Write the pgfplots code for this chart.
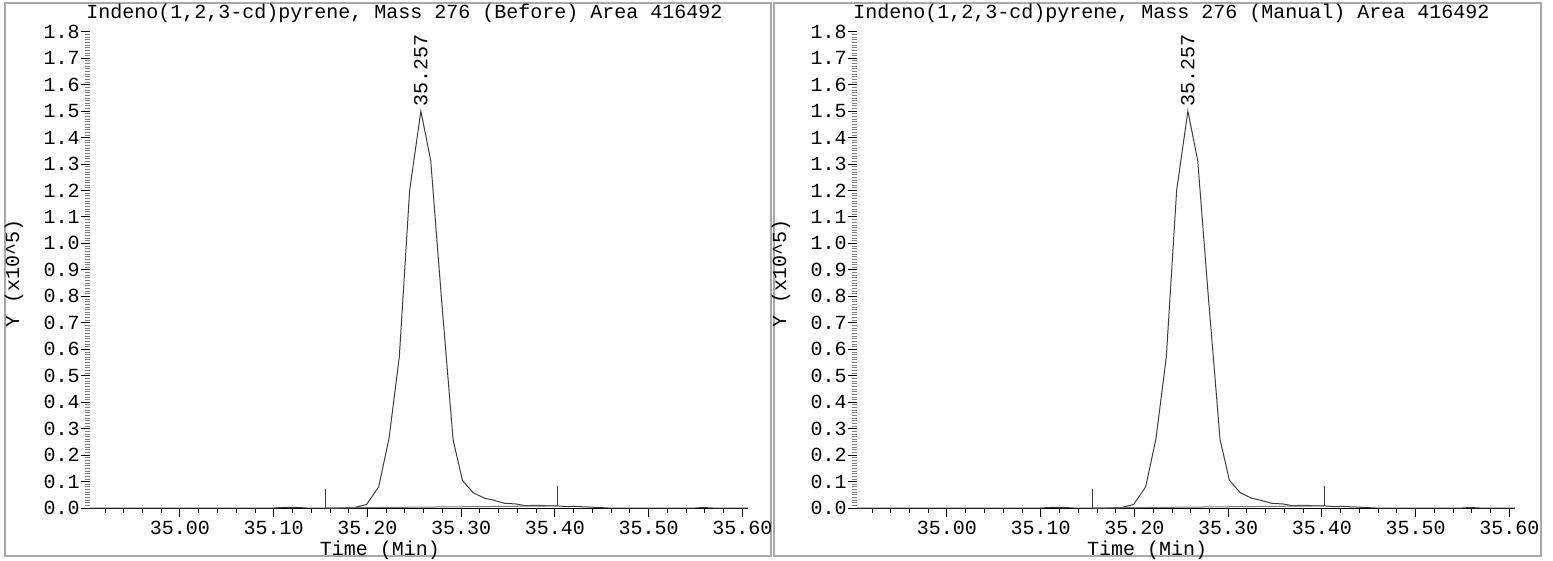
\documentclass[border=0pt]{standalone}
\usepackage{pgfplots}
\pgfplotsset{compat=1.18}
\usepackage{fontspec}
\setmainfont{Liberation Mono}
\definecolor{curve}{HTML}{3C3C3C}
\definecolor{frame}{HTML}{A8A8A8}
\newcommand{\tf}{\fontsize{10}{12}\selectfont}
\pgfplotstableread{
x y
34.904 0.000
35.100 0.000
35.110 0.002
35.125 0.002
35.135 0.000
35.170 0.000
35.186 0.002
35.199 0.013
35.212 0.080
35.223 0.263
35.234 0.571
35.245 1.200
35.257 1.500
35.2675 1.313
35.279 0.790
35.2914 0.257
35.3013 0.105
35.3127 0.058
35.325 0.037
35.334 0.030
35.346 0.018
35.359 0.015
35.368 0.009
35.380 0.010
35.391 0.009
35.403 0.008
35.414 0.005
35.421 0.006
35.435 0.004
35.457 0.000
35.550 0.000
35.558 0.002
35.568 0.000
35.606 0.000
}\chrom
\pgfplotsset{
  panel/.style={
    scale only axis, width=329pt, height=238.15pt,
    anchor=south west,
    xmin=34.904, xmax=35.606, ymin=0, ymax=1.8,
    axis x line=bottom, axis y line=left,
    axis line style={-, line width=0.5pt},
    y axis line style={draw=none},
    clip=false,
    tick align=outside,
    major tick length=4.5pt, minor tick length=2.5pt,
    every tick/.style={black, line width=0.5pt},
    minor y tick style={gray, line width=0.35pt},
    minor x tick style={black, line width=0.45pt},
    xtick={35.0,35.1,35.2,35.3,35.4,35.5,35.6},
    minor xtick={34.92,34.94,34.96,34.98,35.02,35.04,35.06,35.08,35.12,35.14,35.16,35.18,35.22,35.24,35.26,35.28,35.32,35.34,35.36,35.38,35.42,35.44,35.46,35.48,35.52,35.54,35.56,35.58},
    ytick={0,0.1,...,1.8},
    minor y tick num=9,
    scaled ticks=false,
    /pgf/number format/assume math mode=true,
    every tick label/.style={font=\tf, text=black},
    xticklabel style={/pgf/number format/.cd, fixed, fixed zerofill, precision=2, /tikz/.cd, yshift=1.5pt},
    yticklabel style={/pgf/number format/.cd, fixed, fixed zerofill, precision=1, /tikz/.cd, inner sep=0.5pt},
  }
}
\newcommand{\panelplots}{%
  \addplot[color=curve, line width=0.5pt, mark=none] table[x=x,y=y]{\chrom};
  \addplot[color=frame!70!black, line width=0.5pt, mark=none] coordinates {(35.155,0.0) (35.403,0.008)};
  \addplot[color=curve, line width=0.5pt, mark=none] coordinates {(35.155,0.0) (35.155,0.070)};
  \addplot[color=curve, line width=0.5pt, mark=none] coordinates {(35.403,0.008) (35.403,0.082)};
  \node[rotate=90, anchor=west, inner sep=1pt, font=\tf] at (axis cs:35.257,1.51) {35.257};
}
\begin{document}
\begin{tikzpicture}
\path[use as bounding box] (0,0) rectangle (776.5pt,-280.5pt);
% panel 1
\draw[frame, line width=1pt] (2.5pt,-1.5pt) rectangle (385.5pt,-278pt);
\begin{axis}[panel, at={(45pt,-254pt)}]
\panelplots
\end{axis}
\node[anchor=west, inner sep=0pt, font=\tf] at (43pt,-6.5pt) {Indeno(1,2,3-cd)pyrene, Mass 276 (Before) Area 416492};
\node[inner sep=0pt, font=\tf] at (190pt,-275.3pt) {Time (Min)};
\node[rotate=90, inner sep=0pt, font=\tf] at (7pt,-136.5pt) {Y (x10\textasciicircum5)};
% panel 2
\draw[frame, line width=1pt] (387pt,-1.5pt) rectangle (770.5pt,-278pt);
\begin{axis}[panel, at={(428.5pt,-254pt)}]
\panelplots
\end{axis}
\node[anchor=west, inner sep=0pt, font=\tf] at (426.5pt,-6.5pt) {Indeno(1,2,3-cd)pyrene, Mass 276 (Manual) Area 416492};
\node[inner sep=0pt, font=\tf] at (573.5pt,-275.3pt) {Time (Min)};
\node[rotate=90, inner sep=0pt, font=\tf] at (390.5pt,-136.5pt) {Y (x10\textasciicircum5)};
\end{tikzpicture}
\end{document}
